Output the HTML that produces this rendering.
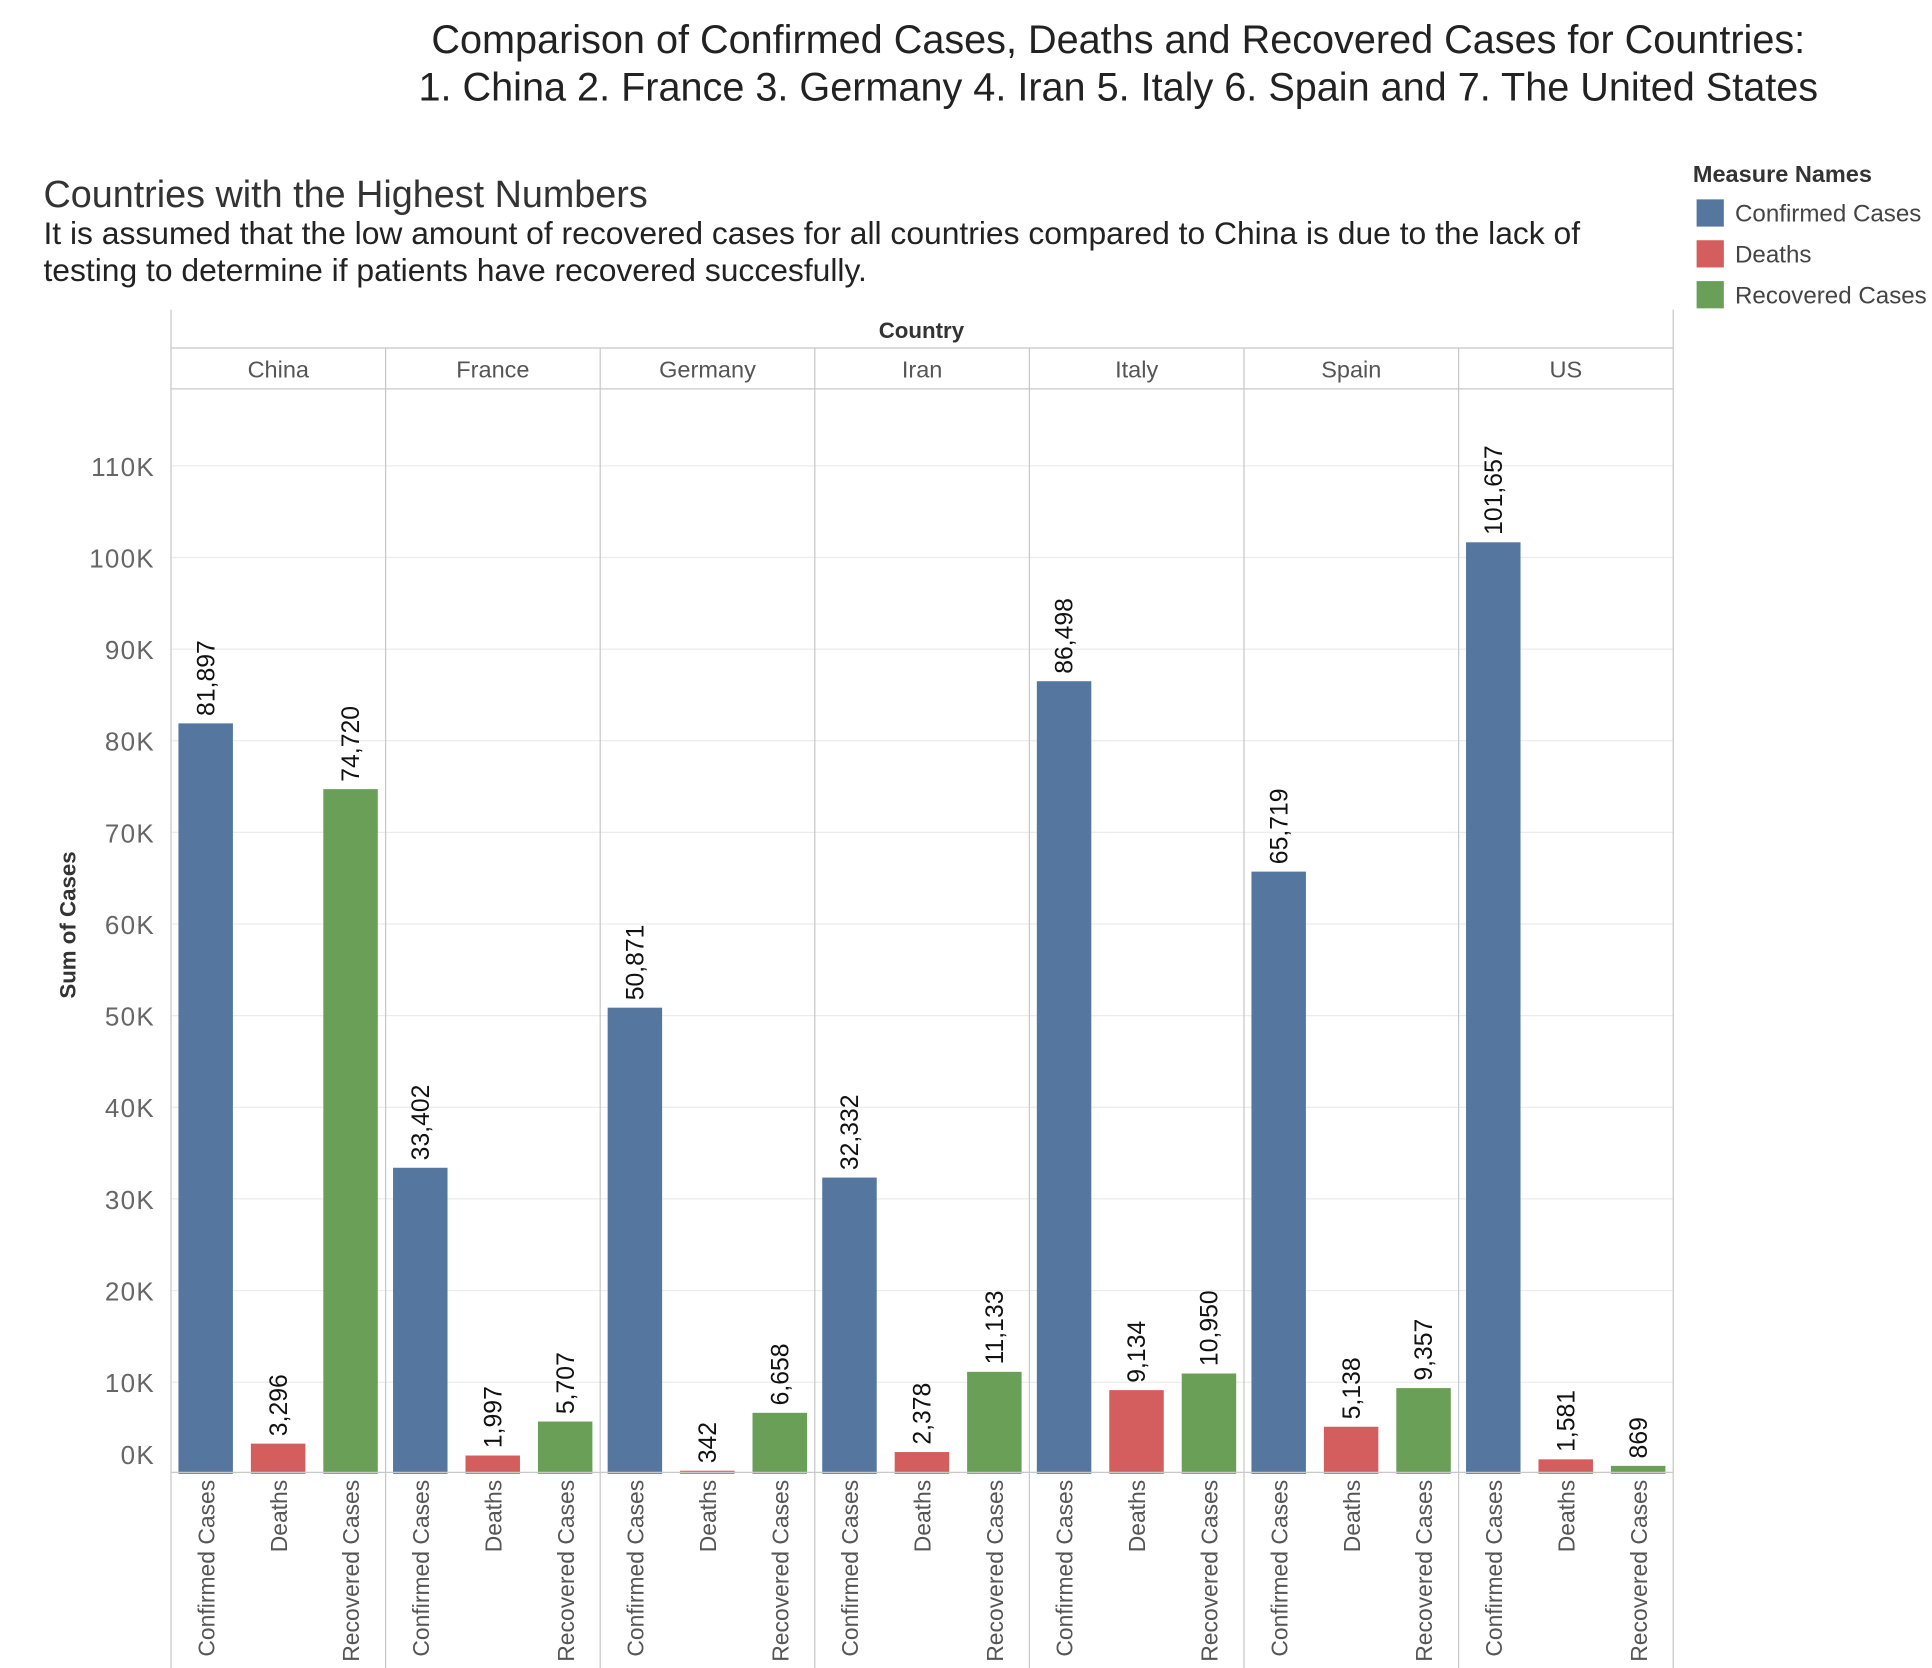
<!DOCTYPE html>
<html><head><meta charset="utf-8"><style>
html,body{margin:0;padding:0;background:#fff;}
svg{display:block;font-family:"Liberation Sans",sans-serif;}
</style></head><body>
<svg id="chart" width="1932" height="1668" viewBox="0 0 1560 1347" xmlns="http://www.w3.org/2000/svg">
<text x="903" y="43" font-size="32" text-anchor="middle" fill="#222">Comparison of Confirmed Cases, Deaths and Recovered Cases for Countries:</text>
<text x="903" y="81" font-size="32" text-anchor="middle" fill="#222">1. China 2. France 3. Germany 4. Iran 5. Italy 6. Spain and 7. The United States</text>
<text x="35" y="167" font-size="30.5" fill="#333">Countries with the Highest Numbers</text>
<text x="35" y="197" font-size="25.7" fill="#222">It is assumed that the low amount of recovered cases for all countries compared to China is due to the lack of</text>
<text x="35" y="227" font-size="25.7" fill="#222">testing to determine if patients have recovered succesfully.</text>
<g>
<text x="1367" y="147" font-size="19" font-weight="bold" fill="#333">Measure Names</text>
<rect x="1370" y="161" width="22" height="22" fill="#55779f"/>
<text x="1401" y="179" font-size="19.5" fill="#444">Confirmed Cases</text>
<rect x="1370" y="194" width="22" height="22" fill="#d45d5d"/>
<text x="1401" y="212" font-size="19.5" fill="#444">Deaths</text>
<rect x="1370" y="227" width="22" height="22" fill="#6a9f58"/>
<text x="1401" y="245" font-size="19.5" fill="#444">Recovered Cases</text>
</g>
<text x="744" y="273" font-size="18" font-weight="bold" text-anchor="middle" fill="#333">Country</text>
<text transform="translate(61,747) rotate(-90)" font-size="18" font-weight="bold" text-anchor="middle" fill="#333">Sum of Cases</text>
<g id="grid"></g><g id="bars"></g><g id="frame"></g>
</svg>
<script>
const countries = ["China","France","Germany","Iran","Italy","Spain","US"];
const measures = ["Confirmed Cases","Deaths","Recovered Cases"];
const confirmed = [81897,33402,50871,32332,86498,65719,101657];
const deaths = [3296,1997,342,2378,9134,5138,1581];
const recovered = [74720,5707,6658,11133,10950,9357,869];
const yTicks = [0,10000,20000,30000,40000,50000,60000,70000,80000,90000,100000,110000];
const yTickLabels = ["0K","10K","20K","30K","40K","50K","60K","70K","80K","90K","100K","110K"];

const NS="http://www.w3.org/2000/svg";
const colors=["#55779f","#d45d5d","#6a9f58"];
const left=138, paneW=173.3;
const y0=1190.2, pxPer=0.0074;
function y(v){return y0 - v*pxPer;}
function paneX(i){return left + i*paneW;}
function mk(tag,attrs,parent){const e=document.createElementNS(NS,tag);for(const k in attrs)e.setAttribute(k,attrs[k]);parent.appendChild(e);return e;}
const grid=document.getElementById('grid'),bars=document.getElementById('bars'),frame=document.getElementById('frame');
yTicks.forEach((t,i)=>{
  if(t>0){const l=mk('line',{x1:left,x2:paneX(7),y1:y(t),y2:y(t),stroke:'#ececec','stroke-width':1},grid);
  
  }
  const ty = t===0 ? y(t)-8 : y(t)+8;
  const tx=mk('text',{x:125,y:ty,'font-size':21,'letter-spacing':1,'text-anchor':'end',fill:'#666'},grid);
  tx.textContent=yTickLabels[i];
  
  
});
const series=[confirmed,deaths,recovered];
countries.forEach((c,i)=>{
  const h=mk('text',{x:paneX(i)+paneW/2,y:305,'font-size':19,'text-anchor':'middle',fill:'#555'},frame);
  h.textContent=c;
  
  
  series.forEach((s,j)=>{
    const cx=paneX(i)+28+j*58.5;
    const v=s[i];
    const r=mk('rect',{x:cx-22,y:y(v),width:44,height:y0-y(v),fill:colors[j]},bars);
    
    
    const lb=mk('text',{transform:`translate(${cx+7},${y(v)-6}) rotate(-90)`,'font-size':20,fill:'#111'},bars);
    lb.textContent=v.toLocaleString('en-US');
    
    
    const xl=mk('text',{transform:`translate(${cx+7},${1195}) rotate(-90)`,'font-size':18.5,'text-anchor':'end',fill:'#555'},frame);
    xl.textContent=measures[j];
    
    
  });
});
for(let i=0;i<=7;i++){
  const l=mk('line',{x1:paneX(i),x2:paneX(i),y1:(i===0||i===7)?250:281,y2:1355,stroke:'#c8c8c8','stroke-width':1},frame);
  
  
}
[281,314,1189].forEach((yy)=>{
  const l=mk('line',{x1:left,x2:paneX(7),y1:yy,y2:yy,stroke:'#c8c8c8','stroke-width':1},frame);
  
  
});
</script>
</body></html>
